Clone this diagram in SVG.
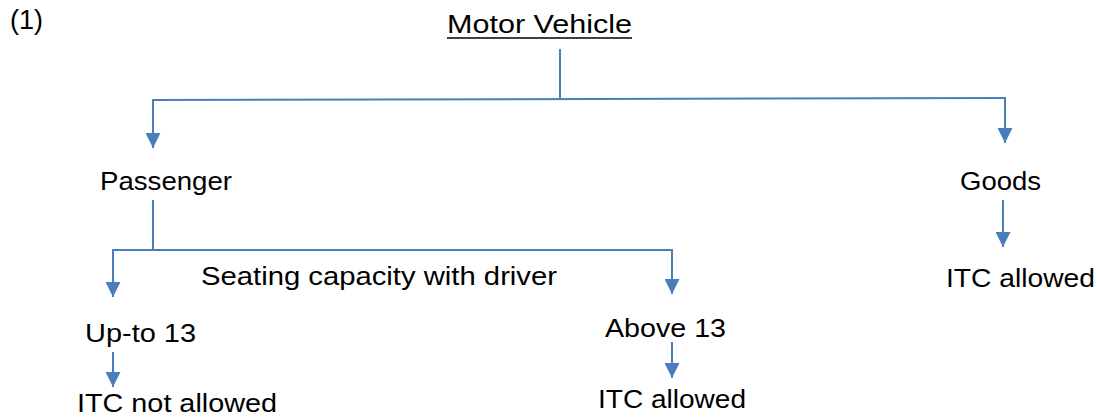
<svg xmlns="http://www.w3.org/2000/svg" width="1097" height="417" viewBox="0 0 1097 417">
<style>
text{font-family:"Liberation Sans",Arial,sans-serif;font-size:26px;fill:#000}
.c line{stroke:#4A7EBB;stroke-width:2;fill:none}
.a{marker-end:url(#ah)}
</style>
<defs>
<marker id="ah" viewBox="0 0 15 15" refX="15" refY="7.5" markerWidth="15" markerHeight="15" markerUnits="userSpaceOnUse" orient="auto">
<path d="M0,0 L15,7.5 L0,15 z" fill="#4A7EBB"/>
</marker>
</defs>
<rect width="1097" height="417" fill="#fff"/>
<g id="label-1"><text x="10" y="29" style="font-size:28px" textLength="33" lengthAdjust="spacingAndGlyphs">(1)</text></g>
<g id="motor-vehicle"><text x="447" y="33" textLength="185" lengthAdjust="spacingAndGlyphs">Motor Vehicle</text><line x1="447" y1="38" x2="632" y2="38" stroke="#000" stroke-width="1.5"/></g>
<g id="passenger"><text x="100" y="190" textLength="132" lengthAdjust="spacingAndGlyphs">Passenger</text></g>
<g id="goods"><text x="960" y="190" textLength="81" lengthAdjust="spacingAndGlyphs">Goods</text></g>
<g id="goods-itc"><text x="946" y="287" textLength="149" lengthAdjust="spacingAndGlyphs">ITC allowed</text></g>
<g id="seating"><text x="201" y="285" textLength="356" lengthAdjust="spacingAndGlyphs">Seating capacity with driver</text></g>
<g id="upto13"><text x="85" y="342" textLength="111" lengthAdjust="spacingAndGlyphs">Up-to 13</text></g>
<g id="above13"><text x="605" y="337" textLength="121" lengthAdjust="spacingAndGlyphs">Above 13</text></g>
<g id="itc-not"><text x="77" y="412" textLength="200" lengthAdjust="spacingAndGlyphs">ITC not allowed</text></g>
<g id="itc-allowed"><text x="598" y="408" textLength="148" lengthAdjust="spacingAndGlyphs">ITC allowed</text></g>
<g id="connectors" class="c">
<line x1="560" y1="49" x2="560" y2="98"/>
<line x1="152" y1="100" x2="1006" y2="98"/>
<line class="a" x1="153" y1="100" x2="153" y2="148"/>
<line class="a" x1="1005" y1="98" x2="1005" y2="143"/>
<line class="a" x1="1003" y1="200" x2="1003" y2="247"/>
<line x1="153" y1="200" x2="153" y2="250"/>
<line x1="112" y1="250" x2="673" y2="250"/>
<line class="a" x1="113" y1="250" x2="113" y2="297"/>
<line class="a" x1="672" y1="250" x2="672" y2="294"/>
<line class="a" x1="113" y1="352" x2="113" y2="387"/>
<line class="a" x1="672" y1="342" x2="672" y2="378"/>
</g>
</svg>
